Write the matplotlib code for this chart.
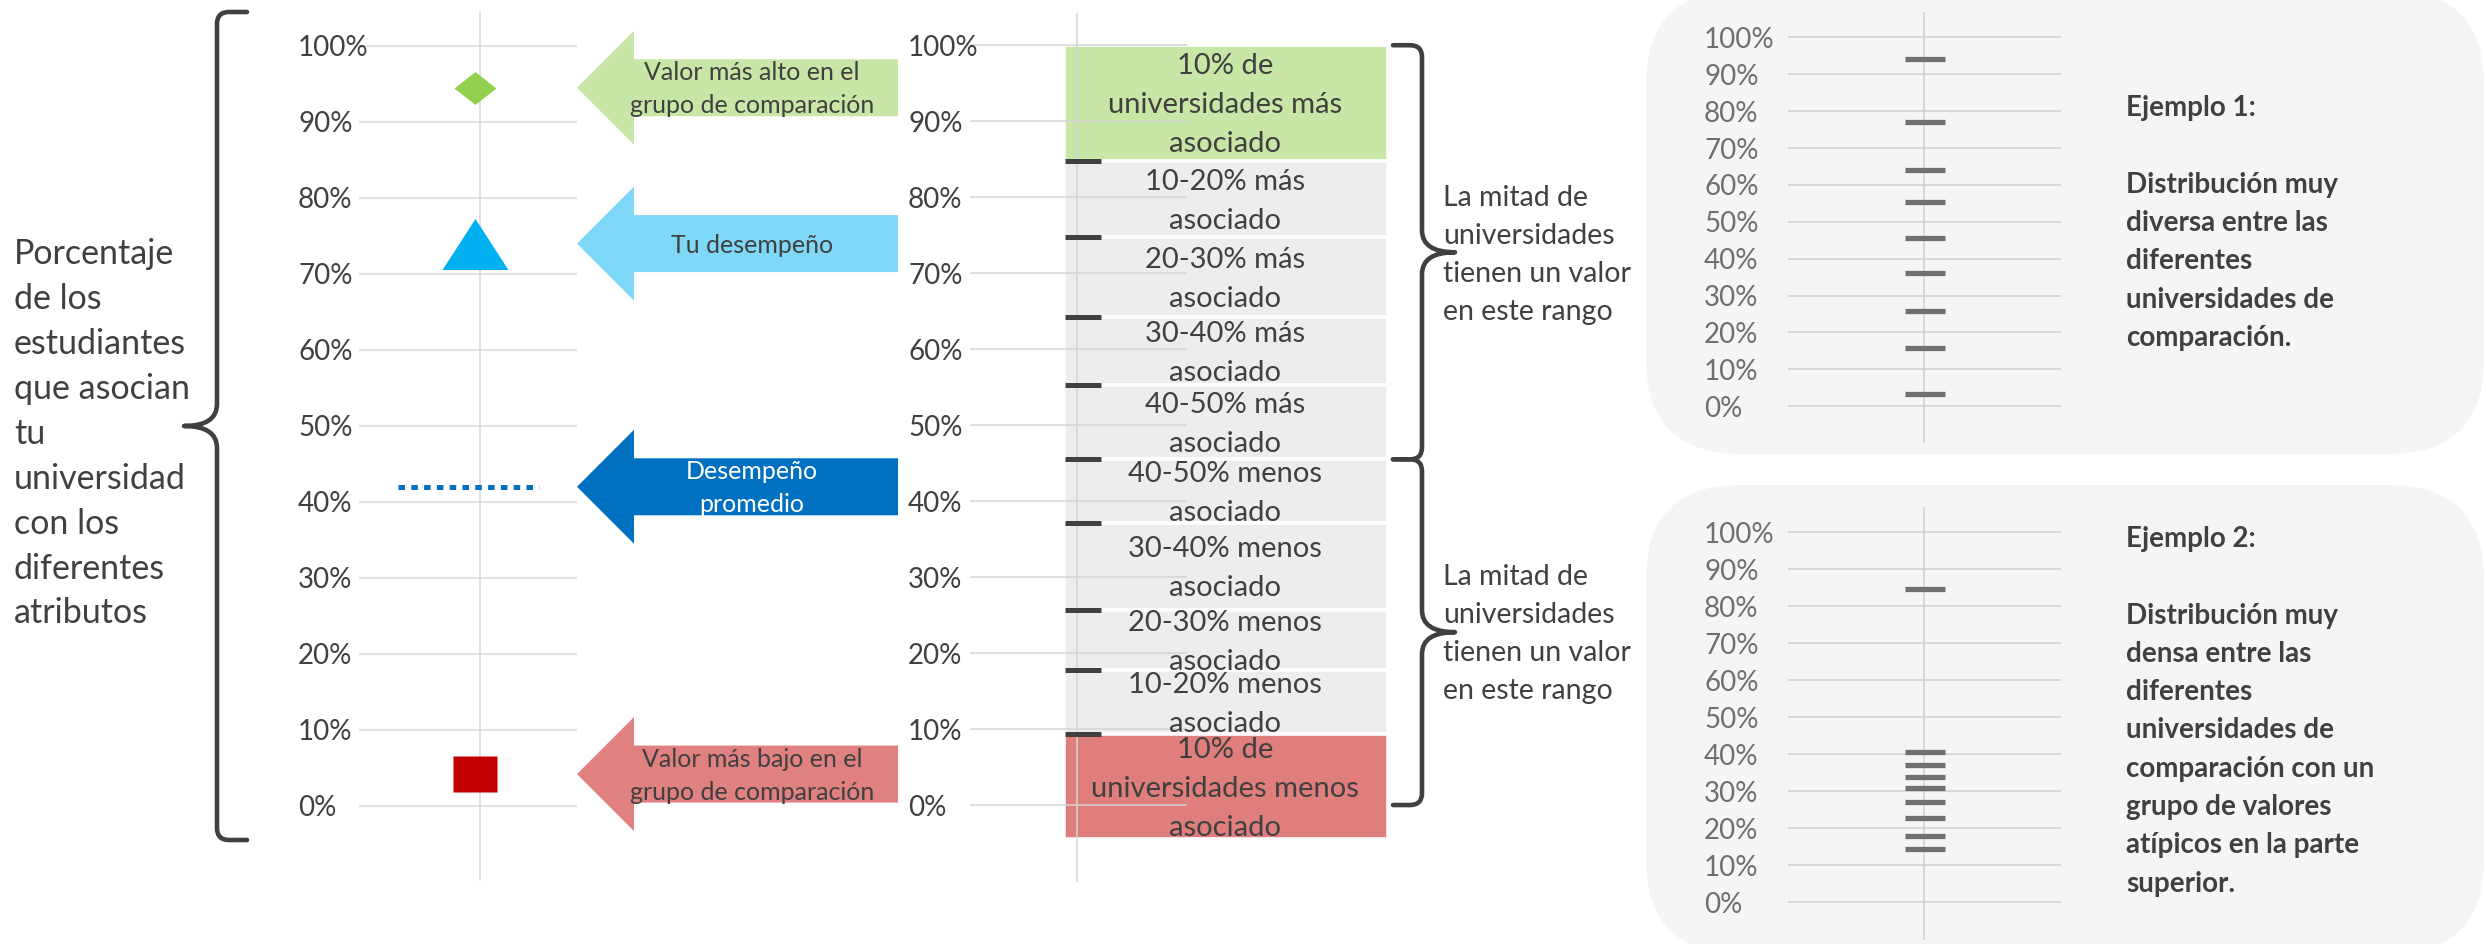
import matplotlib
matplotlib.use("Agg")
import matplotlib.pyplot as plt
from matplotlib.patches import Polygon, FancyBboxPatch, PathPatch
from matplotlib.path import Path
import numpy as np

plt.rcParams['font.family'] = ['Lato', 'DejaVu Sans']

W, H, DPI = 2486, 944, 100

# ---------------- data ----------------
pct_ticks = [0, 10, 20, 30, 40, 50, 60, 70, 80, 90, 100]
pct_labels = [f"{t}%" for t in pct_ticks]

# left chart
highest_value = 94.5
your_value = 74.0
average_value = 42.0
lowest_value = 4.2
arrow_labels = ["Valor más alto en el\ngrupo de comparación", "Tu desempeño",
                "Desempeño\npromedio", "Valor más bajo en el\ngrupo de comparación"]
left_title = ["Porcentaje", "de los", "estudiantes", "que asocian", "tu",
              "universidad", "con los", "diferentes", "atributos"]

# middle chart
decile_values = [84.8, 74.8, 64.2, 55.3, 45.5, 37.1, 25.7, 17.8, 9.35]
band_top = 100.0
band_bottom = -4.5
band_labels = ["10% de\nuniversidades más\nasociado", "10-20% más\nasociado",
               "20-30% más\nasociado", "30-40% más\nasociado", "40-50% más\nasociado",
               "40-50% menos\nasociado", "30-40% menos\nasociado", "20-30% menos\nasociado",
               "10-20% menos\nasociado", "10% de\nuniversidades menos\nasociado"]
band_colors = ["#C8E6A6"] + ["#EDEDED"] * 8 + ["#E07D7D"]
brace_label = ["La mitad de", "universidades", "tienen un valor", "en este rango"]

# examples
example1_values = [94.1, 77.0, 64.0, 55.4, 45.5, 36.2, 25.8, 15.8, 3.2]
example2_values = [84.7, 40.6, 37.1, 33.8, 30.7, 26.9, 22.6, 17.9, 14.3]
example1_text = ["Ejemplo 1:", "", "Distribución muy", "diversa entre las", "diferentes",
                 "universidades de", "comparación."]
example2_text = ["Ejemplo 2:", "", "Distribución muy", "densa entre las", "diferentes",
                 "universidades de", "comparación con un", "grupo de valores",
                 "atípicos en la parte", "superior."]

TXT = "#404040"

# ---------------- figure ----------------
fig = plt.figure(figsize=(W / DPI, H / DPI), dpi=DPI)
bg = fig.add_axes([0, 0, 1, 1], zorder=0)
bg.set_xlim(0, W)
bg.set_ylim(H, 0)
bg.axis('off')


def add_px_axes(x0, x1, y0, y1):
    return fig.add_axes([x0 / W, 1 - y1 / H, (x1 - x0) / W, (y1 - y0) / H], zorder=1)


def to_px(ax, x, y):
    d = ax.transData.transform((x, y))
    return bg.transData.inverted().transform(d)


def style_axes(ax, ylim, pad_px, lab_color, grid_color, axis_x, lab_size):
    ax.set_xlim(0, 1)
    ax.set_ylim(*ylim)
    ax.set_facecolor('none')
    for s in ax.spines.values():
        s.set_visible(False)
    ax.set_xticks([])
    ax.set_yticks(pct_ticks)
    ax.set_yticklabels(pct_labels, fontsize=lab_size, color=lab_color)
    ax.tick_params(axis='y', length=0, pad=pad_px * 72 / DPI)
    for lab in ax.get_yticklabels():
        lab.set_horizontalalignment('left')
    ax.grid(axis='y', color=grid_color, lw=1.1)
    ax.set_axisbelow(True)
    ax.axvline(axis_x, color=grid_color, lw=1.1, zorder=0.6)


def text_lines(x, y_center, lines, spacing, size, ax=None, **kw):
    em = size * DPI / 72
    n = len(lines)
    target = bg if ax is None else ax
    for i, s in enumerate(lines):
        if not s:
            continue
        y = y_center + (i - (n - 1) / 2) * spacing
        target.text(x, y + 0.36 * em, s, fontsize=size, va='baseline',
                    transform=bg.transData, clip_on=False, zorder=5, **kw)


def brace(x_sp, y0, y1, ytip, side, w, t, r=12, rt=22):
    hx = x_sp - side * w
    tx = x_sp + side * t
    verts = [(hx, y0), (x_sp - side * r, y0), (x_sp, y0), (x_sp, y0 + r),
             (x_sp, ytip - rt), (x_sp, ytip), (tx, ytip),
             (x_sp, ytip), (x_sp, ytip + rt),
             (x_sp, y1 - r), (x_sp, y1), (x_sp - side * r, y1), (hx, y1)]
    codes = [Path.MOVETO, Path.LINETO, Path.CURVE3, Path.CURVE3,
             Path.LINETO, Path.CURVE3, Path.CURVE3, Path.CURVE3, Path.CURVE3,
             Path.LINETO, Path.CURVE3, Path.CURVE3, Path.LINETO]
    bg.add_patch(PathPatch(Path(verts, codes), fill=False, edgecolor=TXT, lw=3.3,
                           capstyle='round', joinstyle='round'))


def arrow(yc, color, tip_x=577, base_x=634, end_x=898, hh=57, bh=28.5):
    pts = [(tip_x, yc), (base_x, yc - hh), (base_x, yc - bh), (end_x, yc - bh),
           (end_x, yc + bh), (base_x, yc + bh), (base_x, yc + hh)]
    bg.add_patch(Polygon(pts, closed=True, facecolor=color, edgecolor='none'))


# ---------------- left chart ----------------
axL = add_px_axes(359, 577, 12, 881)
style_axes(axL, (-9.87, 104.47), 61, TXT, "#D9D9D9", 0.555, 20)
cat_x = 0.53
diamond = np.array([(-1, 0), (0, 0.786), (1, 0), (0, -0.786), (-1, 0)])
tri = np.array([(-1, -0.773), (1, -0.773), (0, 0.773), (-1, -0.773)])
sq = np.array([(-1, -0.795), (1, -0.795), (1, 0.795), (-1, 0.795), (-1, -0.795)])
axL.plot([cat_x], [highest_value], marker=diamond, ms=30.2, color="#92D050", mec='none', ls='none', zorder=3)
axL.plot([cat_x], [your_value], marker=tri, ms=47.5, color="#00B0F0", mec='none', ls='none', zorder=3)
axL.plot([cat_x], [lowest_value], marker=sq, ms=31.7, color="#C00000", mec='none', ls='none', zorder=3)
axL.plot([0.179, 0.826], [average_value, average_value], color="#0070C0", lw=3.6,
         linestyle=(0, (1.3, 1.26)), dash_capstyle='butt', zorder=3)

# arrows
arrow_vals = [highest_value, your_value, average_value, lowest_value]
arrow_cols = ["#C8E7A7", "#80D8F8", "#0070C0", "#E08080"]
arrow_txt_cols = [TXT, TXT, "white", TXT]
for v, c, lab, tc in zip(arrow_vals, arrow_cols, arrow_labels, arrow_txt_cols):
    yc = to_px(axL, 0, v)[1]
    arrow(yc, c)
    text_lines(752, yc, lab.split("\n"), 33, 18, color=tc, ha='center')

# left title + brace
text_lines(14, 431.6, left_title, 44.9, 24.5, color=TXT, ha='left')
brace(217, 12, 840, 426, -1, 30, 33)

# ---------------- middle chart ----------------
axM = add_px_axes(970, 1187, 13, 882)
style_axes(axM, (-10.13, 104.24), 62, TXT, "#D4D4D4", 0.493, 20)
bounds = [band_top] + decile_values + [band_bottom]
tops = np.array(bounds[:-1])
bots = np.array(bounds[1:])
bx0, bx1 = 0.433, 1.926
axM.bar([(bx0 + bx1) / 2] * len(tops), tops - bots, bottom=bots, width=bx1 - bx0,
        color=band_colors, edgecolor='white', linewidth=2.6, zorder=0.2, clip_on=False)
axM.plot([0.519] * len(decile_values), decile_values, ls='none', marker='_', ms=26.6,
         mew=3.6, color=TXT, zorder=3, clip_on=False)
for t, b, lab in zip(tops, bots, band_labels):
    px = to_px(axM, 1.175, (t + b) / 2)
    text_lines(px[0], px[1], lab.split("\n"), 39, 21, ax=axM, color=TXT, ha='center')

y_top = to_px(axM, 0, band_top)[1]
y_mid = to_px(axM, 0, decile_values[4])[1]
y_bot = to_px(axM, 0, 0)[1]
for ya, yb in [(y_top, y_mid), (y_mid, y_bot)]:
    brace(1422, ya, yb, (ya + yb) / 2, 1, 29, 33)
    text_lines(1443, (ya + yb) / 2, brace_label, 38, 20.5, color=TXT, ha='left')

# ---------------- example panels ----------------
for (y0, y1) in [(-10, 454), (485, 954)]:
    bg.add_patch(FancyBboxPatch((1646, y0), 2484 - 1646, y1 - y0,
                                boxstyle="round,pad=0,rounding_size=95",
                                facecolor="#F5F5F5", edgecolor='none'))

ax1 = add_px_axes(1787.6, 2060.5, 12, 443)
style_axes(ax1, (-9.95, 106.86), 83.6, "#6F6F6F", "#D0D0D0", 0.5, 20)
ax1.plot([0.505] * len(example1_values), example1_values, ls='none', marker='_',
         ms=28.4, mew=3.8, color="#707070", zorder=3)

ax2 = add_px_axes(1787.6, 2060.5, 507, 940)
style_axes(ax2, (-10.27, 106.76), 83.6, "#6F6F6F", "#D0D0D0", 0.5, 20)
ax2.plot([0.505] * len(example2_values), example2_values, ls='none', marker='_',
         ms=28.4, mew=3.8, color="#707070", zorder=3)

sp = 38.3
text_lines(2126.5, 106 + (len(example1_text) - 1) / 2 * sp, example1_text, sp, 20,
           color=TXT, ha='left', fontweight='bold')
text_lines(2126.5, 537 + (len(example2_text) - 1) / 2 * sp, example2_text, sp, 20,
           color=TXT, ha='left', fontweight='bold')

fig.savefig("out.png", dpi=DPI)
